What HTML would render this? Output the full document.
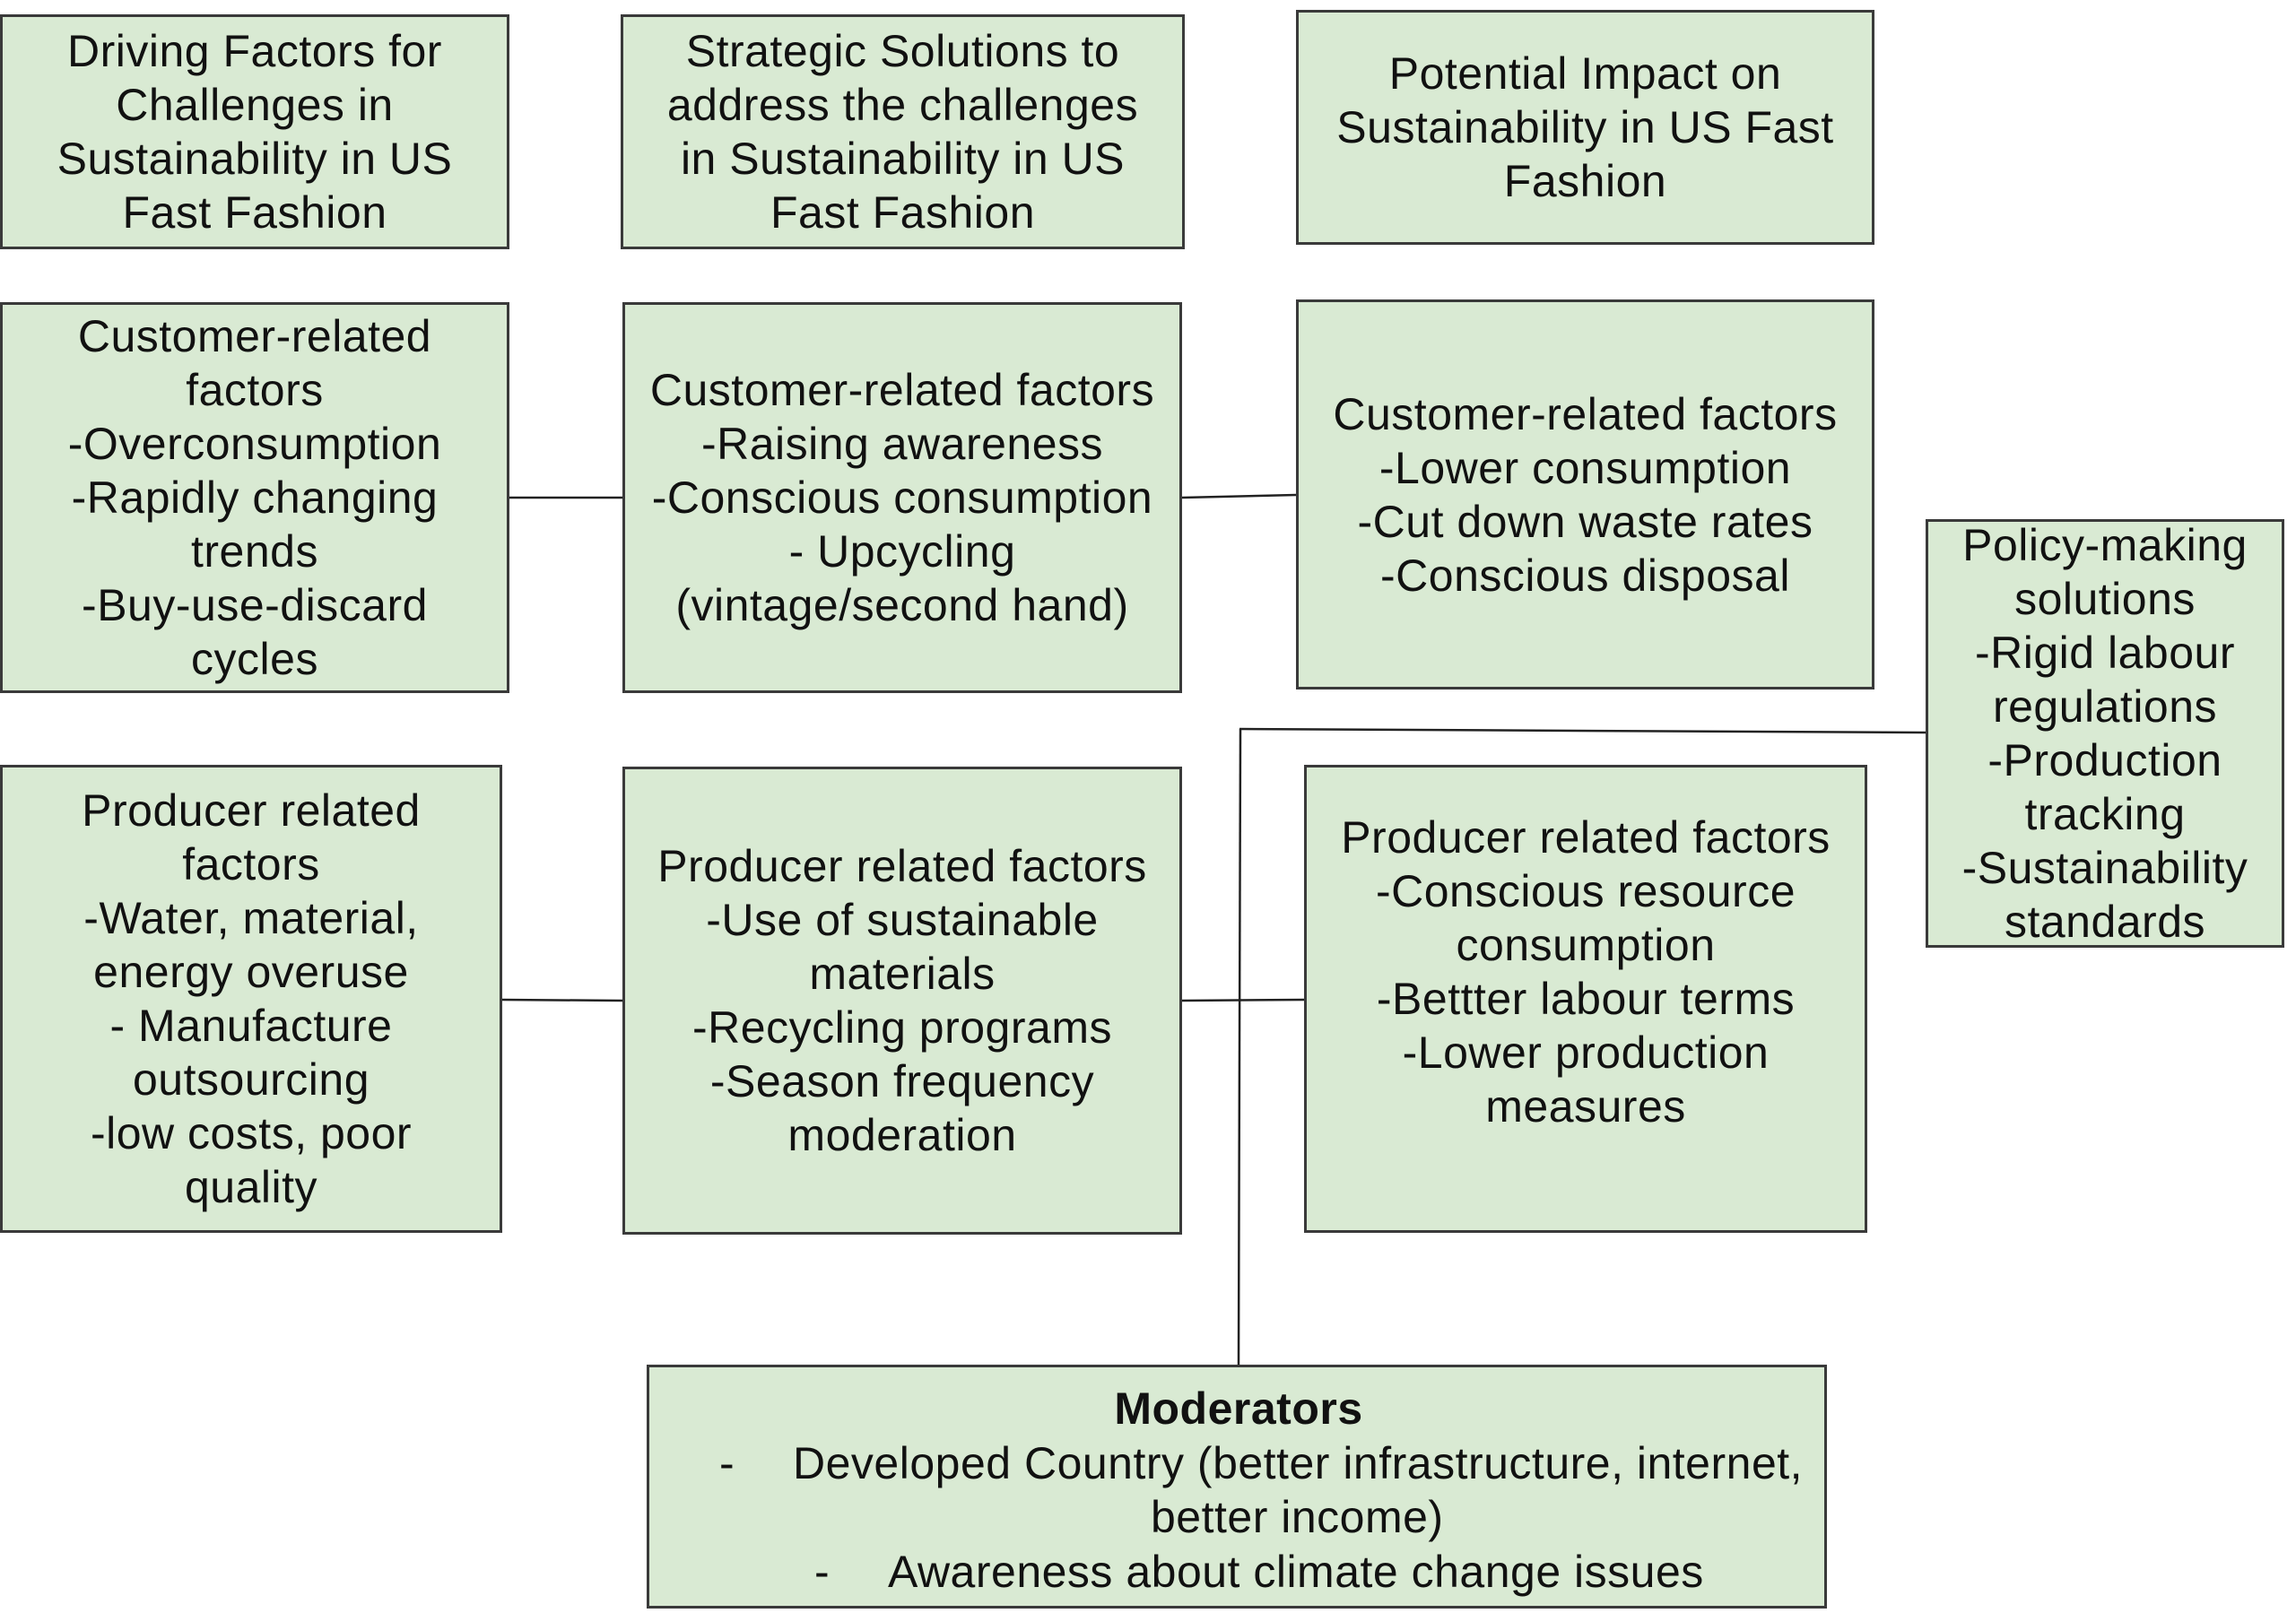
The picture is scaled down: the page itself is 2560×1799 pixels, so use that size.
<!DOCTYPE html>
<html><head><meta charset="utf-8"><style>
html,body{margin:0;padding:0;background:#fff;}
body{width:2560px;height:1799px;position:relative;overflow:hidden;font-family:"Liberation Sans","Arimo",Helvetica,"DejaVu Sans",sans-serif;color:#111;}
.b{position:absolute;box-sizing:border-box;background:#d9ead3;border:3px solid #3a3a3a;display:flex;align-items:center;justify-content:center;text-align:center;font-size:50px;letter-spacing:0.5px;line-height:60px;}
.t{position:absolute;font-size:50px;letter-spacing:0.5px;line-height:60px;white-space:nowrap;}
</style></head><body>
<div class="b" style="left:0;top:16px;width:568px;height:262px;">Driving Factors for<br>Challenges in<br>Sustainability in US<br>Fast Fashion</div>
<div class="b" style="left:692px;top:16px;width:629px;height:262px;">Strategic Solutions to<br>address the challenges<br>in Sustainability in US<br>Fast Fashion</div>
<div class="b" style="left:1445px;top:11px;width:645px;height:262px;">Potential Impact on<br>Sustainability in US Fast<br>Fashion</div>

<div class="b" style="left:0;top:337px;width:568px;height:436px;">Customer-related<br>factors<br>-Overconsumption<br>-Rapidly changing<br>trends<br>-Buy-use-discard<br>cycles</div>
<div class="b" style="left:694px;top:337px;width:624px;height:436px;">Customer-related factors<br>-Raising awareness<br>-Conscious consumption<br>- Upcycling<br>(vintage/second hand)</div>
<div class="b" style="left:1445px;top:334px;width:645px;height:435px;">Customer-related factors<br>-Lower consumption<br>-Cut down waste rates<br>-Conscious disposal</div>

<div class="b" style="left:2147px;top:579px;width:400px;height:478px;">Policy-making<br>solutions<br>-Rigid labour<br>regulations<br>-Production<br>tracking<br>-Sustainability<br>standards</div>

<div class="b" style="left:0;top:853px;width:560px;height:522px;">Producer related<br>factors<br>-Water, material,<br>energy overuse<br>- Manufacture<br>outsourcing<br>-low costs, poor<br>quality</div>
<div class="b" style="left:694px;top:855px;width:624px;height:522px;">Producer related factors<br>-Use of sustainable<br>materials<br>-Recycling programs<br>-Season frequency<br>moderation</div>
<div class="b" style="left:1454px;top:853px;width:628px;height:522px;padding-bottom:60px;">Producer related factors<br>-Conscious resource<br>consumption<br>-Bettter labour terms<br>-Lower production<br>measures</div>

<div class="b" style="left:721px;top:1522px;width:1316px;height:272px;"></div>
<div class="t" style="left:0;width:2762px;top:1541px;text-align:center;font-weight:bold;">Moderators</div>
<div class="t" style="left:802px;top:1602px;">-</div>
<div class="t" style="left:884px;top:1602px;">Developed Country (better infrastructure, internet,</div>
<div class="t" style="left:1283px;top:1662px;">better income)</div>
<div class="t" style="left:908px;top:1723px;">-</div>
<div class="t" style="left:990px;top:1723px;">Awareness about climate change issues</div>

<svg width="2560" height="1799" style="position:absolute;left:0;top:0;" xmlns="http://www.w3.org/2000/svg">
<g stroke="#222" stroke-width="2.5" fill="none">
<line x1="568" y1="555" x2="694" y2="555"/>
<line x1="1318" y1="555" x2="1445" y2="552"/>
<line x1="560" y1="1115" x2="694" y2="1116"/>
<line x1="1318" y1="1116" x2="1454" y2="1115"/>
<line x1="1383" y1="813" x2="1381" y2="1522"/>
<line x1="1382" y1="813" x2="2147" y2="817"/>
</g>
</svg>
</body></html>
